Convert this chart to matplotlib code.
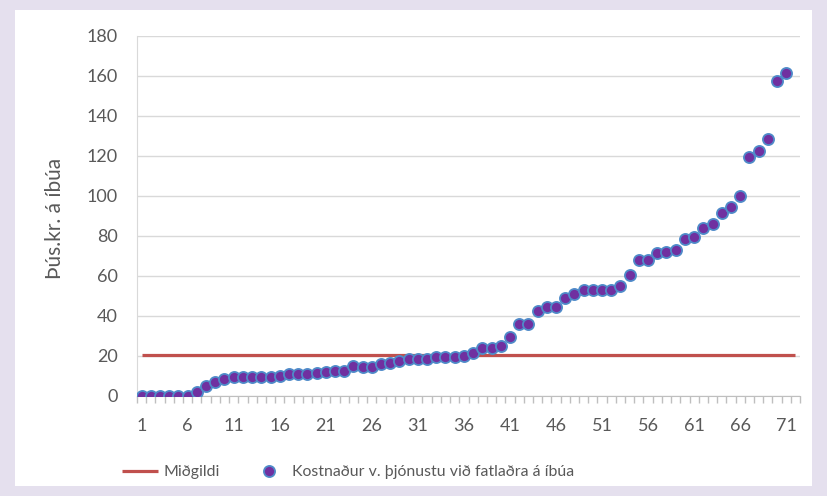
import matplotlib
matplotlib.use("Agg")
import matplotlib.pyplot as plt
from matplotlib.patches import Rectangle
from matplotlib.ticker import FixedLocator, MultipleLocator
import numpy as np

plt.rcParams['font.family'] = ['Lato', 'DejaVu Sans']

# ---- data ----
values = [0, 0, 0, 0, 0, 0, 2, 5, 7, 8.5,
          9.7, 9.7, 9.7, 9.7, 9.7, 10, 10.8, 10.8, 11, 11.7,
          12, 12.7, 12.5, 15, 14.7, 14.7, 15.8, 16.7, 17.5, 18.3,
          18.3, 18.3, 19.7, 19.7, 19.3, 20.2, 21.3, 23.8, 23.8, 25,
          29.3, 36, 36, 42.5, 44.7, 44.7, 49.2, 51, 53, 53,
          53, 53, 55, 60.5, 68, 68, 71.3, 71.8, 73, 78.3,
          79.3, 84.2, 86, 91.7, 94.7, 100.2, 119.7, 122.7, 128.3, 157.7,
          161.3]
n_categories = 72
median_value = 20.4
median_series = [median_value] * n_categories
tick_labels = [str(i) for i in range(1, 72, 5)]
series_names = ["Miðgildi", "Kostnaður v. þjónustu við fatlaðra á íbúa"]
ylabel = "Þús.kr. á íbúa"

W, H = 827, 496
fig = plt.figure(figsize=(W / 100, H / 100), dpi=100)
fig.patch.set_facecolor('#E5E0EE')
fig.patches.append(Rectangle((15 / W, 1 - 486 / H), (812 - 15) / W, (486 - 10) / H,
                             transform=fig.transFigure, facecolor='white',
                             edgecolor='none', zorder=-5))

left, right, top, bottom = 137, 800, 36, 396
ax = fig.add_axes([left / W, 1 - bottom / H, (right - left) / W, (bottom - top) / H])
ax.set_facecolor('none')

cats = np.arange(1, n_categories + 1)
xs = np.arange(1, len(values) + 1)
line, = ax.plot(cats, median_series, color='#C0504D', lw=2.3, solid_capstyle='butt', zorder=2)
pts, = ax.plot(xs, values, linestyle='none', marker='o', markersize=8.0,
               markerfacecolor='#7030A0', markeredgecolor='#4F8BC9', markeredgewidth=1.3, zorder=3)

ax.set_xlim(0.5, n_categories + 0.5)
ax.set_ylim(0, 180)
ax.yaxis.set_major_locator(MultipleLocator(20))
ax.grid(axis='y', color='#D9D9D9', lw=1)
ax.set_axisbelow(True)

ax.xaxis.set_major_locator(FixedLocator(list(range(1, 72, 5))))
ax.set_xticklabels(tick_labels)
ax.xaxis.set_minor_locator(FixedLocator(np.arange(0.5, n_categories + 1, 1)))
ax.tick_params(axis='x', which='major', length=0, pad=16, labelsize=13, labelcolor='#595959')
ax.tick_params(axis='x', which='minor', length=5, width=1, color='#BFBFBF', direction='out')
ax.tick_params(axis='y', length=0, pad=14, labelsize=13, labelcolor='#595959')

for s in ['top', 'right']:
    ax.spines[s].set_visible(False)
ax.spines['bottom'].set_color('#BFBFBF')
ax.spines['left'].set_color('#D9D9D9')

ax.set_ylabel(ylabel, fontsize=15, color='#595959')
ax.yaxis.set_label_coords((65 - left) / (right - left), (396 - 218) / (bottom - top),
                          transform=ax.transAxes)

leg = fig.legend([line, pts], series_names, loc='center left',
                 bbox_to_anchor=(122 / W, 1 - 472 / H), ncol=2, frameon=False,
                 fontsize=11.4, labelcolor='#595959', handlelength=2.3,
                 handletextpad=0.3, columnspacing=2.0, borderpad=0, borderaxespad=0)

fig.savefig('out.png', dpi=100)
